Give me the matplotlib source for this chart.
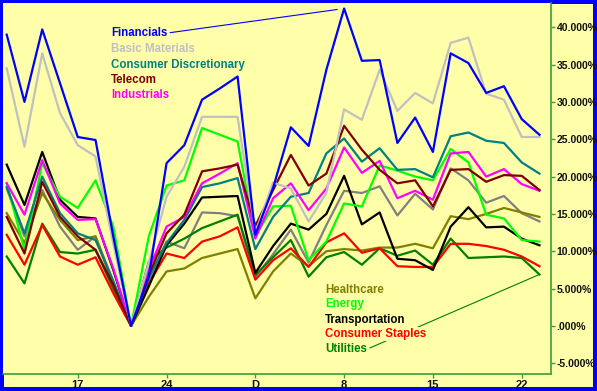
import numpy as np
import matplotlib.pyplot as plt
from matplotlib.ticker import FuncFormatter

# % change since the Nov 20 low, one value per trading day (Nov 11 .. Dec 23)
financials = [39.0, 30.0, 39.7, 32.5, 25.3, 24.9, 12.0, 0, 6.6, 21.8, 24.2, 30.3, 31.8, 33.4, 12.2, 18.5,
              26.6, 24.1, 34.3, 42.5, 35.5, 35.6, 24.5, 27.9, 23.3, 36.5, 35.2, 31.2, 32.1, 27.7, 25.6]
basic_materials = [34.5, 24.0, 36.5, 28.5, 24.2, 22.7, 11.0, 0, 8.5, 17.3, 21.3, 28.0, 28.0, 28.0, 12.5, 19.2,
                   18.4, 14.0, 17.8, 29.0, 27.6, 34.3, 28.8, 31.2, 29.8, 37.9, 38.6, 31.1, 30.3, 25.3, 25.3]
cons_discretionary = [18.6, 12.4, 20.0, 15.1, 12.4, 11.5, 6.0, 0, 6.5, 11.1, 14.2, 18.6, 19.1, 19.8, 10.3, 14.6,
                      17.3, 17.8, 23.1, 25.1, 22.0, 23.8, 20.9, 21.0, 19.9, 25.4, 25.9, 24.8, 24.5, 21.9, 20.4]
telecom = [14.6, 9.7, 19.3, 14.6, 12.0, 10.2, 5.5, 0, 6.8, 12.4, 14.9, 20.7, 21.1, 21.6, 13.4, 18.2,
           22.9, 18.8, 20.4, 26.8, 23.6, 20.9, 19.1, 19.5, 16.0, 20.9, 21.0, 19.3, 20.2, 20.1, 18.2]
industrials = [19.1, 14.9, 22.2, 16.4, 14.2, 14.3, 7.7, 0, 7.5, 13.3, 14.6, 19.1, 20.4, 21.8, 11.7, 17.1,
               19.1, 15.5, 18.4, 23.9, 20.5, 22.1, 17.1, 18.1, 16.9, 23.1, 23.3, 20.0, 21.0, 19.0, 18.1]
healthcare = [15.1, 11.1, 17.8, 14.2, 11.5, 12.0, 5.5, 0, 3.9, 7.3, 7.7, 9.1, 9.7, 10.3, 3.7, 7.3,
              9.7, 8.0, 10.0, 10.3, 10.1, 10.5, 10.5, 11.0, 10.4, 14.7, 14.3, 15.0, 15.8, 15.2, 14.6]
energy = [19.1, 10.2, 21.8, 17.3, 15.8, 19.5, 13.3, 0, 12.0, 18.8, 19.5, 26.5, 25.6, 24.7, 12.0, 16.0,
          16.1, 8.8, 11.3, 16.4, 16.0, 21.5, 20.8, 20.0, 19.5, 23.7, 21.9, 14.9, 14.4, 11.5, 11.3]
transportation = [21.6, 16.2, 23.3, 16.9, 14.6, 14.4, 7.5, 0, 5.3, 10.8, 13.7, 17.2, 17.3, 17.4, 7.1, 10.7,
                  13.7, 12.9, 15.0, 20.1, 13.6, 15.2, 9.0, 8.8, 7.5, 13.3, 15.9, 13.2, 13.3, 11.7, 10.8]
cons_staples = [12.2, 8.2, 13.5, 9.3, 8.2, 9.2, 4.4, 0, 5.7, 9.7, 9.1, 11.3, 12.0, 13.2, 6.2, 8.8,
                10.4, 7.9, 11.2, 12.4, 9.8, 10.4, 8.0, 7.9, 7.9, 11.0, 11.0, 10.7, 10.2, 9.3, 8.0]
utilities = [9.3, 5.7, 13.7, 9.9, 9.7, 10.2, 5.0, 0, 8.6, 10.5, 11.7, 13.1, 14.0, 14.9, 6.8, 9.2,
             11.5, 6.6, 9.2, 9.9, 8.2, 10.4, 9.4, 10.1, 8.2, 11.7, 9.1, 9.2, 9.3, 9.1, 6.9]
# grey line has no label in the chart
technology = [18.4, 12.0, 18.2, 13.3, 10.2, 12.0, 6.0, 0, 6.0, 11.3, 10.4, 15.2, 15.1, 14.7, 6.6, 9.6,
              12.9, 8.5, 13.5, 18.1, 17.8, 18.7, 14.8, 17.7, 15.6, 21.1, 19.5, 16.5, 17.4, 15.1, 14.0]

tick_pos = [4, 9, 14, 19, 24, 29]
tick_labels = ["17", "24", "D", "8", "15", "22"]

bg = "#FFFFAA"
axis_green = "#3C9C3C"
plt.rcParams['font.family'] = ['Liberation Sans', 'DejaVu Sans']

fig = plt.figure(figsize=(5.97, 3.91), dpi=100)
fig.patch.set_facecolor(bg)
fig.patch.set_edgecolor("#0000FF")
fig.patch.set_linewidth(4.5)
ax = fig.add_axes([3 / 597, 17 / 391, 548 / 597, 371 / 391])
ax.set_facecolor(bg)

x = np.arange(len(financials))
series = [
    (technology, "#808080"),
    (utilities, "#008000"),
    (healthcare, "#808000"),
    (cons_staples, "#FF0000"),
    (transportation, "#000000"),
    (energy, "#00FF00"),
    (cons_discretionary, "#008080"),
    (industrials, "#FF00FF"),
    (telecom, "#800000"),
    (basic_materials, "#C0C0C0"),
    (financials, "#0000FF"),
]
for vals, col in series:
    ax.plot(x, vals, color=col, lw=1.6, zorder=2)

ax.set_xlim(-0.21, 30.65)
ax.set_ylim(-6.43, 43.24)
ax.set_xticks(tick_pos)
ax.set_xticklabels(tick_labels)
ax.set_yticks(np.arange(-5, 41, 5))


def pct(v, pos):
    s = "%.3f%%" % v
    if s.startswith("0."):
        s = s[1:]
    return s


ax.yaxis.set_major_formatter(FuncFormatter(pct))
ax.yaxis.tick_right()
for side in ["left", "top"]:
    ax.spines[side].set_visible(False)
for side in ["right", "bottom"]:
    ax.spines[side].set_color(axis_green)
    ax.spines[side].set_linewidth(1.2)
ax.tick_params(axis="both", colors=axis_green, length=3, width=1, direction="out")
ax.tick_params(axis="y", pad=1, labelsize=7.5)
ax.tick_params(axis="x", pad=1, labelsize=8)
for lab in ax.get_xticklabels() + ax.get_yticklabels():
    lab.set_color("#111111")
    lab.set_fontweight("bold")

fs = 8.3
# top group of labels
ax.annotate("Financials", xy=(19, financials[19]), xycoords="data",
            xytext=(0.197, 0.919), textcoords="axes fraction",
            color="#0000FF", fontsize=fs, fontweight="bold", va="center",
            arrowprops=dict(arrowstyle="-", color="#0000FF", lw=0.8,
                            relpos=(1, 0.5), shrinkA=0, shrinkB=5))
top_labels = [("Basic Materials", "#C0C0C0", 0.875),
              ("Consumer Discretionary", "#008080", 0.833),
              ("Telecom", "#800000", 0.792),
              ("Industrials", "#FF00FF", 0.752)]
for txt, col, yy in top_labels:
    ax.text(0.197, yy, txt, transform=ax.transAxes, color=col, fontsize=fs,
            fontweight="bold", va="center")

# bottom group of labels
bottom_labels = [("Healthcare", "#808000", 0.226),
                 ("Energy", "#00FF00", 0.188),
                 ("Transportation", "#000000", 0.146)]
for txt, col, yy in bottom_labels:
    ax.text(0.588, yy, txt, transform=ax.transAxes, color=col, fontsize=fs,
            fontweight="bold", va="center")
ax.text(0.588, 0.108, "Consumer Staples", transform=ax.transAxes, color="#FF0000",
        fontsize=fs, fontweight="bold", va="center", zorder=5,
        bbox=dict(facecolor=bg, edgecolor="none", pad=0.5))
ax.annotate("Utilities", xy=(30, utilities[30]), xycoords="data",
            xytext=(0.588, 0.067), textcoords="axes fraction",
            color="#008000", fontsize=fs, fontweight="bold", va="center", zorder=3,
            arrowprops=dict(arrowstyle="-", color="#008000", lw=0.8,
                            relpos=(1, 0.5), shrinkA=0, shrinkB=0))

fig.savefig("out.png", dpi=100, facecolor=fig.get_facecolor(), edgecolor=fig.get_edgecolor())
